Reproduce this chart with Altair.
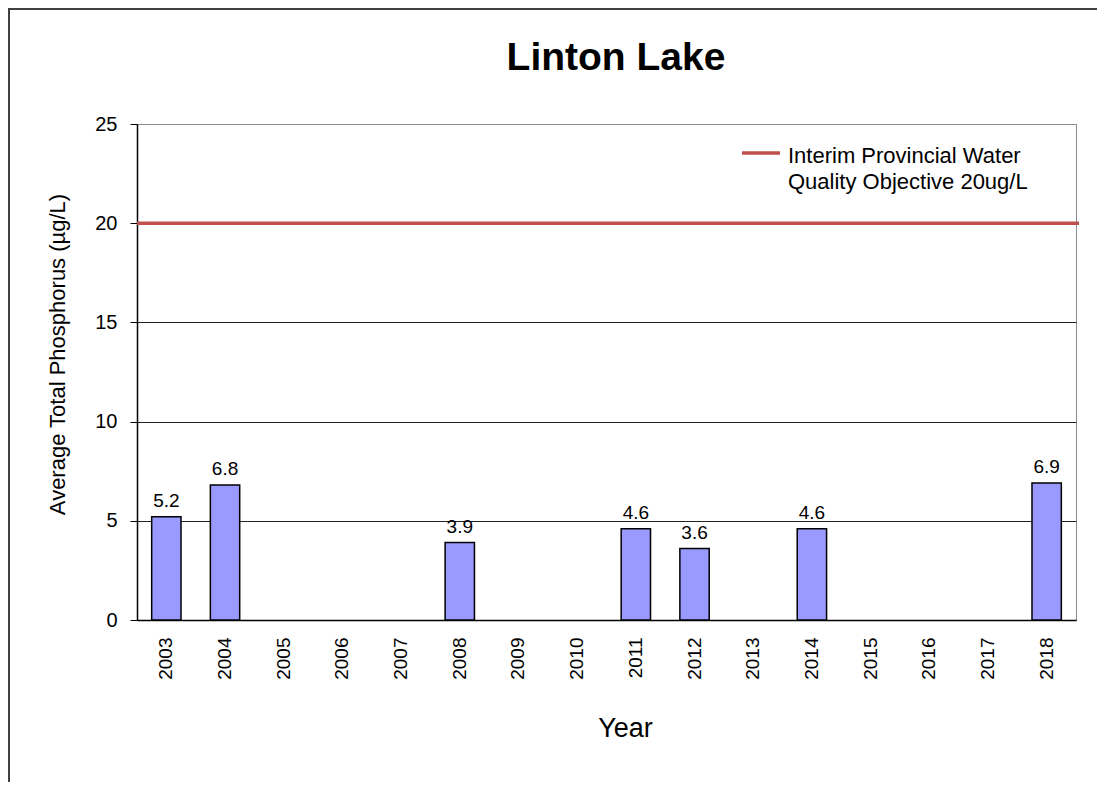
import altair as alt
import pandas as pd

years = [str(y) for y in range(2003, 2019)]
values = [5.2, 6.8, None, None, None, 3.9, None, None, 4.6, 3.6, None, 4.6, None, None, None, 6.9]
objective = [20]
title_text = "Linton Lake"
legend_lines = ["Interim Provincial Water", "Quality Objective 20ug/L"]
y_ticks = [0, 5, 10, 15, 20, 25]

W, H = 939, 496
FONT = "Liberation Sans"

df = pd.DataFrame({"Year": years, "TP": values})
obj_df = pd.DataFrame({"v": objective})
dummy = pd.DataFrame({"a": [0]})

x_enc = alt.X(
    "Year:N", sort=years,
    scale=alt.Scale(paddingInner=0.5, paddingOuter=0.25),
    axis=alt.Axis(title="Year", labelAngle=-90, labelAlign="right", labelBaseline="middle",
                  ticks=False, labelPadding=17, labelFontSize=19, labelColor="black",
                  domainColor="black", domainWidth=1.5, titleFontSize=27,
                  titleFontWeight="normal", titlePadding=36, titleColor="black",
                  titleX=488, titleAlign="center"),
)
y_enc = alt.Y(
    "TP:Q", scale=alt.Scale(domain=[0, 25], nice=False),
    axis=alt.Axis(values=y_ticks, title="Average Total Phosphorus  (µg/L)", grid=True,
                  gridColor={"condition": {"test": "datum.value == 25", "value": "#8c8c8c"}, "value": "#222222"},
                  gridWidth=1, tickSize=7, tickColor="black", domainColor="black", domainWidth=1.5,
                  labelFontSize=20, labelPadding=13, labelColor="black",
                  titleFontSize=22, titleFontWeight="normal", titlePadding=25, titleColor="black",
                  titleY=230, titleAlign="center"),
)

base = alt.Chart(df)
bars = base.mark_bar(color="#9999FF", stroke="black", strokeWidth=1.5).encode(x=x_enc, y=y_enc)
labels = base.mark_text(fontSize=19, dy=-10, baseline="alphabetic", color="black").encode(
    x=alt.X("Year:N", sort=years), y=alt.Y("TP:Q"), text=alt.Text("TP:Q", format=".1f")
).transform_filter("isValid(datum.TP)")

obj_line = alt.Chart(obj_df).mark_rule(color="#C0504D", strokeWidth=3.5).encode(
    y="v:Q", x=alt.value(0), x2=alt.value(W + 3)
)

leg_line = alt.Chart(dummy).mark_rule(color="#C0504D", strokeWidth=3.5).encode(
    x=alt.value(605), x2=alt.value(643), y=alt.value(29)
)
leg_text = alt.Chart(dummy).mark_text(align="left", baseline="alphabetic", fontSize=22,
                                      lineHeight=26, lineBreak="\n", color="black").encode(
    x=alt.value(651), y=alt.value(39), text=alt.value("\n".join(legend_lines))
)
title = alt.Chart(dummy).mark_text(align="center", baseline="alphabetic", fontSize=39,
                                   fontWeight="bold", color="black").encode(
    x=alt.value(479), y=alt.value(-54), text=alt.value(title_text)
)
frame = alt.Chart(dummy).mark_rect(filled=False, stroke="#404040", strokeWidth=2).encode(
    x=alt.value(-128), y=alt.value(-115), x2=alt.value(W + 200), y2=alt.value(H + 400)
)

chart = alt.layer(frame, obj_line, bars, labels, leg_line, leg_text, title).properties(
    width=W, height=H, autosize="none",
    padding={"left": 129, "top": 116, "right": 21, "bottom": 162},
).configure(font=FONT).configure_view(stroke="#8c8c8c", strokeWidth=1)

chart.save("out.html", embed_options={"renderer": "svg", "actions": False})
